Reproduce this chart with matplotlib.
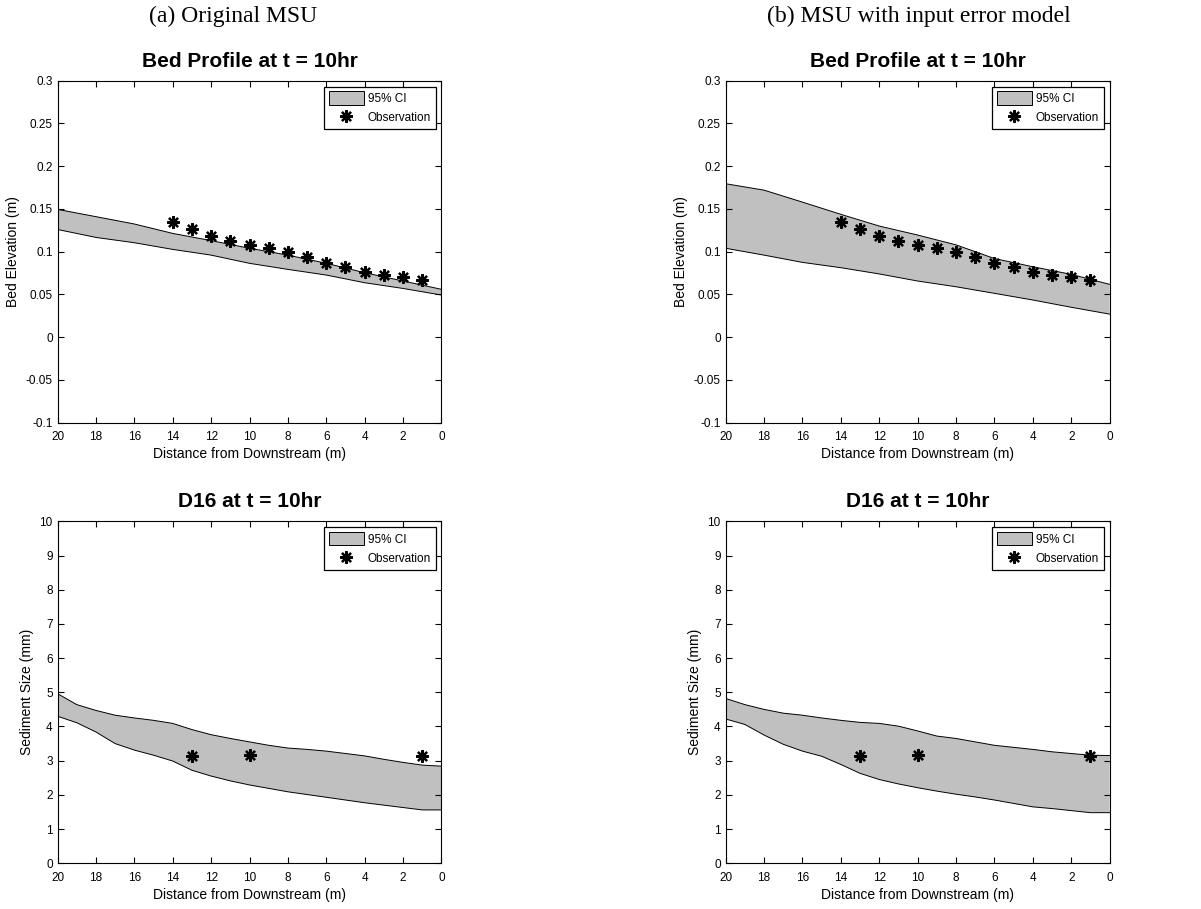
import matplotlib.pyplot as plt
import numpy as np
from matplotlib.ticker import FuncFormatter
from matplotlib.patches import Patch
from matplotlib.lines import Line2D

plt.rcParams['font.family'] = ['Liberation Sans', 'DejaVu Sans']

# bed profile, sampled every 2 m (20 -> 0)
x_bed = [20, 18, 16, 14, 12, 10, 8, 6, 4, 2, 0]
bed_a_upper = [0.1495, 0.141, 0.1324, 0.1214, 0.113, 0.104, 0.096, 0.0864, 0.0754, 0.0657, 0.056]
bed_a_lower = [0.126, 0.1167, 0.1105, 0.1027, 0.096, 0.0864, 0.0793, 0.0727, 0.0637, 0.057, 0.0493]
bed_b_upper = [0.1795, 0.172, 0.158, 0.1437, 0.130, 0.1195, 0.108, 0.092, 0.0824, 0.0735, 0.0618]
bed_b_lower = [0.104, 0.096, 0.0875, 0.0813, 0.074, 0.0657, 0.059, 0.0513, 0.0435, 0.035, 0.027]

x_obs_bed = [14, 13, 12, 11, 10, 9, 8, 7, 6, 5, 4, 3, 2, 1]
obs_bed = [0.135, 0.1265, 0.1187, 0.1129, 0.1078, 0.1039, 0.100, 0.0938, 0.0867, 0.0824, 0.0766, 0.073, 0.070, 0.0673]

# D16, sampled every 1 m (20 -> 0)
x_d16 = list(range(20, -1, -1))
d16_a_upper = [4.96, 4.64, 4.47, 4.33, 4.25, 4.18, 4.09, 3.91, 3.76, 3.65, 3.55,
               3.45, 3.37, 3.33, 3.28, 3.21, 3.14, 3.04, 2.95, 2.87, 2.84]
d16_a_lower = [4.30, 4.11, 3.84, 3.50, 3.31, 3.16, 2.99, 2.72, 2.55, 2.41, 2.29,
               2.19, 2.09, 2.01, 1.93, 1.85, 1.77, 1.70, 1.63, 1.56, 1.56]
d16_b_upper = [4.82, 4.64, 4.50, 4.39, 4.33, 4.25, 4.18, 4.12, 4.09, 4.01, 3.87,
               3.72, 3.65, 3.55, 3.45, 3.39, 3.33, 3.26, 3.21, 3.16, 3.15]
d16_b_lower = [4.22, 4.06, 3.75, 3.48, 3.28, 3.13, 2.89, 2.63, 2.45, 2.32, 2.21,
               2.11, 2.02, 1.94, 1.85, 1.75, 1.65, 1.60, 1.54, 1.48, 1.48]

x_obs_d16 = [13, 10, 1]
obs_d16 = [3.13, 3.18, 3.13]

fig = plt.figure(figsize=(12.01, 9.09), dpi=100)

W, H = 0.3197, 0.3762
lefts = [0.0479, 0.6042]
bottoms = [0.535, 0.0503]

ast = (8, 2, 0)


def fmt(v, pos):
    return '%g' % round(v, 4)


def panel(ax, x, lo, hi, xo, yo, title, ylabel, ylim, yticks):
    ax.fill_between(x, lo, hi, facecolor='#c0c0c0', edgecolor='none')
    ax.plot(x, hi, color='black', lw=0.7)
    ax.plot(x, lo, color='black', lw=0.7)
    ax.plot([0, 0], [lo[-1], hi[-1]], color='black', lw=0.7)
    ax.plot(xo, yo, linestyle='none', marker=ast, ms=9, mew=1.6, color='black')
    ax.set_xlim(20, 0)
    ax.set_ylim(*ylim)
    ax.set_xticks(np.arange(20, -1, -2))
    ax.set_yticks(yticks)
    ax.yaxis.set_major_formatter(FuncFormatter(fmt))
    ax.tick_params(direction='in', top=True, right=True, labelsize=8.5, length=4, width=0.8)
    ax.tick_params(axis='x', pad=6)
    ax.tick_params(axis='y', pad=3.5)
    for s in ax.spines.values():
        s.set_linewidth(0.8)
    ax.set_title(title, fontsize=15, fontweight='bold', pad=10)
    ax.set_xlabel('Distance from Downstream (m)', fontsize=10, labelpad=3)
    ax.set_ylabel(ylabel, fontsize=10, labelpad=4)
    handles = [Patch(facecolor='#c0c0c0', edgecolor='black', lw=0.7),
               Line2D([], [], linestyle='none', marker=ast, ms=9, mew=1.6, color='black')]
    leg = ax.legend(handles, ['95% CI', 'Observation'], loc='upper right', fontsize=8.5,
                    fancybox=False, framealpha=1, edgecolor='black', handlelength=3.0,
                    handleheight=1.35, handletextpad=0.3, borderpad=0.4, labelspacing=0.5,
                    borderaxespad=0.5)
    leg.get_frame().set_linewidth(0.9)


ax = fig.add_axes([lefts[0], bottoms[0], W, H])
panel(ax, x_bed, bed_a_lower, bed_a_upper, x_obs_bed, obs_bed, 'Bed Profile at t = 10hr',
      'Bed Elevation (m)', (-0.1, 0.3), np.arange(-0.1, 0.301, 0.05))
ax = fig.add_axes([lefts[1], bottoms[0], W, H])
panel(ax, x_bed, bed_b_lower, bed_b_upper, x_obs_bed, obs_bed, 'Bed Profile at t = 10hr',
      'Bed Elevation (m)', (-0.1, 0.3), np.arange(-0.1, 0.301, 0.05))
ax = fig.add_axes([lefts[0], bottoms[1], W, H])
panel(ax, x_d16, d16_a_lower, d16_a_upper, x_obs_d16, obs_d16, 'D16 at t = 10hr',
      'Sediment Size (mm)', (0, 10), np.arange(0, 11, 1))
ax = fig.add_axes([lefts[1], bottoms[1], W, H])
panel(ax, x_d16, d16_b_lower, d16_b_upper, x_obs_d16, obs_d16, 'D16 at t = 10hr',
      'Sediment Size (mm)', (0, 10), np.arange(0, 11, 1))

fig.text(0.194, 0.982, '(a) Original MSU', family='Liberation Serif', fontsize=17, ha='center', va='center')
fig.text(0.765, 0.982, '(b) MSU with input error model', family='Liberation Serif', fontsize=17,
         ha='center', va='center')

fig.savefig('out.png', dpi=100)
